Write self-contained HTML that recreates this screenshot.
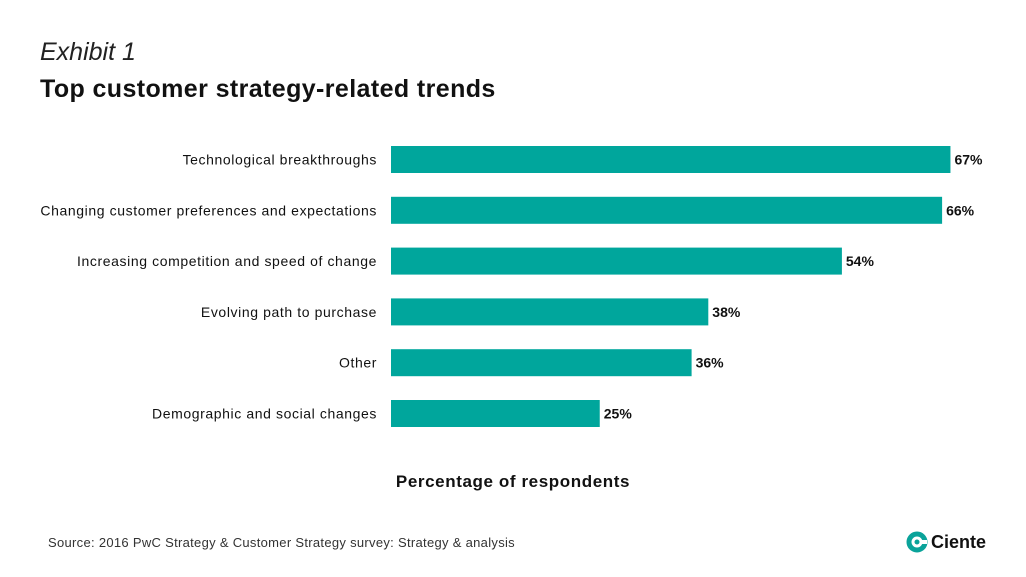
<!DOCTYPE html>
<html><head><meta charset="utf-8"><style>
body{margin:0;width:1026px;height:577px;background:#fff;font-family:"Liberation Sans",sans-serif;overflow:hidden;position:relative}
.t{position:absolute;color:#111}
</style></head><body>
<div class="t" style="left:40px;top:38px;font-size:25px;font-style:italic;font-weight:300;color:#222">Exhibit 1</div>
<div class="t" style="left:40px;top:75px;font-size:25px;font-weight:bold;letter-spacing:0.4px">Top customer strategy-related trends</div>
<svg id="chart" width="1026" height="577" style="position:absolute;left:0;top:0"></svg>
<div class="t" style="left:0;width:1026px;text-align:center;top:472px;font-size:17px;font-weight:bold;letter-spacing:0.6px">Percentage of respondents</div>
<div class="t" style="left:48px;top:535px;font-size:13px;color:#333;letter-spacing:0.3px">Source: 2016 PwC Strategy &amp; Customer Strategy survey: Strategy &amp; analysis</div>
<div style="position:absolute;left:906px;top:531px;display:flex;align-items:center">
<svg width="22" height="22" viewBox="0 0 22 22"><circle cx="11" cy="11" r="8" fill="none" stroke="#0aa39a" stroke-width="5"/><rect x="11" y="9" width="10" height="4" fill="#fff"/><circle cx="11" cy="11" r="2.5" fill="#0aa39a"/></svg>
<span style="font-size:18px;font-weight:bold;color:#111;margin-left:3px">Ciente</span></div>
<script>
const categories=["Technological breakthroughs","Changing customer preferences and expectations","Increasing competition and speed of change","Evolving path to purchase","Other","Demographic and social changes"];
const values=[67,66,54,38,36,25];
const valueLabels=["67%","66%","54%","38%","36%","25%"];
const svg=document.getElementById('chart');
const NS="http://www.w3.org/2000/svg";
const x0=391,k=8.35,y0=146,step=50.8,bh=27;
const xs=v=>x0+v*k;
const ys=i=>y0+i*step;
categories.forEach((c,i)=>{
 const r=document.createElementNS(NS,'rect');
 r.setAttribute('x',x0);r.setAttribute('y',ys(i));r.setAttribute('width',xs(values[i])-x0);r.setAttribute('height',bh);r.setAttribute('fill','#00a69c');
 
 
 svg.appendChild(r);
 const l=document.createElementNS(NS,'text');
 l.setAttribute('x',377);l.setAttribute('y',ys(i)+bh/2+5);l.setAttribute('text-anchor','end');l.setAttribute('font-size','14');l.setAttribute('fill','#111');l.setAttribute('letter-spacing','0.6');
 l.textContent=c;
 
 
 svg.appendChild(l);
 const v=document.createElementNS(NS,'text');
 v.setAttribute('x',xs(values[i])+4);v.setAttribute('y',ys(i)+bh/2+5);v.setAttribute('font-size','14');v.setAttribute('font-weight','bold');v.setAttribute('fill','#111');
 v.textContent=valueLabels[i];
 
 
 svg.appendChild(v);
});
</script>
</body></html>
